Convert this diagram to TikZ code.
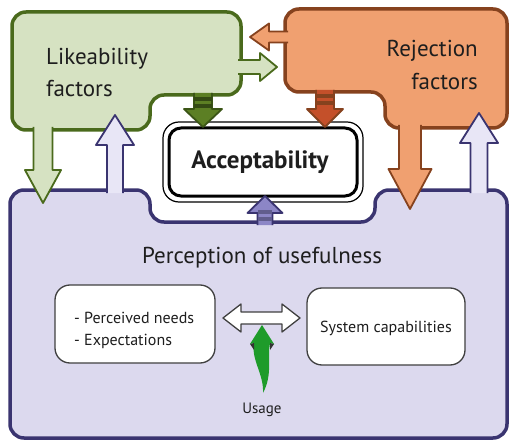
\documentclass[tikz,border=0pt]{standalone}
\usepackage{fontspec}
\setmainfont{PT Sans}
\usetikzlibrary{calc}
\definecolor{gfill}{HTML}{D6E2C2}
\definecolor{gline}{HTML}{4A6A1C}
\definecolor{ofill}{HTML}{F0A070}
\definecolor{oline}{HTML}{86421E}
\definecolor{pfill}{HTML}{DCD9EE}
\definecolor{pline}{HTML}{3A3470}
\definecolor{parrow}{HTML}{E8E6F6}
\definecolor{gdark}{HTML}{5C7F24}
\definecolor{rdark}{HTML}{C4502A}
\definecolor{pdark}{HTML}{8C86C6}
\definecolor{txt}{HTML}{1E1E1E}
\definecolor{usegreen}{HTML}{1E9B2A}
% vertical block arrow: style, cx, ybase, ytip, shaft half, head half, head length (signed)
\newcommand{\varr}[7]{\filldraw[#1] ({#2-#5},{#3}) -- ({#2-#5},{#4-(#7)}) -- ({#2-#6},{#4-(#7)}) -- ({#2},{#4}) -- ({#2+#6},{#4-(#7)}) -- ({#2+#5},{#4-(#7)}) -- ({#2+#5},{#3});}
% horizontal block arrow: style, cy, xbase, xtip, shaft half, head half, head length (signed)
\newcommand{\harr}[7]{\filldraw[#1] ({#3},{#2-#5}) -- ({#4-(#7)},{#2-#5}) -- ({#4-(#7)},{#2-#6}) -- ({#4},{#2}) -- ({#4-(#7)},{#2+#6}) -- ({#4-(#7)},{#2+#5}) -- ({#3},{#2+#5});}
\tikzset{
  region/.style={rounded corners=14pt, line width=3.5pt, line join=round},
  blk/.style={line width=1.8pt, line join=round},
  inner/.style={draw=black!75, line width=1.3pt, fill=white, rounded corners=15pt},
  label/.style={text=txt, inner sep=0pt},
}
\begin{document}
\begin{tikzpicture}[x=1pt,y=-1pt]
\useasboundingbox (0,0) rectangle (512,444);
\fill[white] (0,0) rectangle (512,444);
% Perception region
\draw[region, fill=pfill, draw=pline] (10,190) -- (150,190) -- (150,222) -- (375,222) -- (375,190) -- (507,190) -- (507,438) -- (10,438) -- cycle;
% Likeability region
\draw[region, fill=gfill, draw=gline] (12,12) -- (241,12) -- (241,95) -- (150,95) -- (150,130) -- (12,130) -- cycle;
% Rejection region
\draw[region, fill=ofill, draw=oline] (285,9) -- (507,9) -- (507,128) -- (385,128) -- (385,92) -- (285,92) -- cycle;
% Acceptability box
\draw[black, line width=1.2pt, fill=white, rounded corners=16pt] (163,122) rectangle (363,202);
\draw[black, line width=3pt, rounded corners=12pt] (169,128) rectangle (357,196);
\node[label, font=\bfseries\fontsize{25}{28}\selectfont] (acc) at (260,162) {Acceptability};
% arrows between regions
\harr{blk, fill=gfill, draw=gline}{67}{238}{277}{7}{14}{17}
\harr{blk, fill=ofill, draw=oline}{37}{288}{250}{5.5}{13.5}{-19}
\varr{blk, fill=gdark, draw=gline!80!black}{203}{93}{127}{9}{19}{18}
\varr{blk, fill=rdark, draw=oline}{325}{90}{127}{9}{18}{18}
\varr{blk, fill=pdark, draw=pline}{265}{225}{196}{7.5}{17.5}{-17}
\varr{blk, fill=gfill, draw=gline}{43}{127}{203}{9.5}{18}{33}
\varr{blk, fill=parrow, draw=pline}{115}{193}{115}{8}{19}{-30}
\varr{blk, fill=ofill, draw=oline}{410}{125}{209}{11}{21.5}{40}
\varr{blk, fill=parrow, draw=pline}{479}{193}{113}{8.5}{19}{-30}
% stripes on acceptability arrows
\fill[gline!70!black] (194,97) rectangle (212,101);
\fill[gline!70!black] (194,104) rectangle (212,108);
\fill[oline] (316,94) rectangle (334,98);
\fill[oline] (316,101) rectangle (334,105);
\fill[pline!80] (258,210) rectangle (272,214);
\fill[pline!80] (258,217) rectangle (272,221);
% region labels
\node[label, anchor=base west, font=\fontsize{23}{27}\selectfont] (like1) at (46,65) {Likeability};
\node[label, anchor=base west, font=\fontsize{23}{27}\selectfont] (like2) at (46,96) {factors};
\node[label, anchor=base east, font=\fontsize{23}{27}\selectfont] (rej1) at (478,57) {Rejection};
\node[label, anchor=base east, font=\fontsize{23}{27}\selectfont] (rej2) at (478,89) {factors};
\node[label, anchor=base, font=\fontsize{23}{27}\selectfont] (perc) at (262,263) {Perception of usefulness};
% inner boxes
\draw[inner] (55,285) rectangle (215,363);
\node[label, anchor=base west, font=\fontsize{16}{19}\selectfont] (pn1) at (74,323) {- Perceived needs};
\node[label, anchor=base west, font=\fontsize{16}{19}\selectfont] (pn2) at (74,345) {- Expectations};
\draw[inner] (307,288) rectangle (465,365);
\node[label, anchor=base, font=\fontsize{16}{19}\selectfont] (sys) at (386,332) {System capabilities};
% double arrow
\filldraw[fill=white, draw=black!75, line width=1.3pt, line join=round]
  (223,318) -- (241,304) -- (241,312) -- (282,312) -- (282,304) -- (300,318) -- (282,332) -- (282,324) -- (241,324) -- (241,332) -- cycle;
% usage arrow
\fill[usegreen] (262,325) -- (274,344) -- (270,343) .. controls (267,358) and (273,374) .. (263,393) .. controls (264,374) and (251,360) .. (254,343) -- (250,344) -- cycle;
\fill[black!80] (250,344) -- (254,343) -- (254,350) -- cycle;
\fill[black!80] (274,344) -- (270,343) -- (270,350) -- cycle;
\node[label, anchor=base, font=\fontsize{15}{18}\selectfont] (usage) at (262,413) {Usage};
\end{tikzpicture}
\end{document}
